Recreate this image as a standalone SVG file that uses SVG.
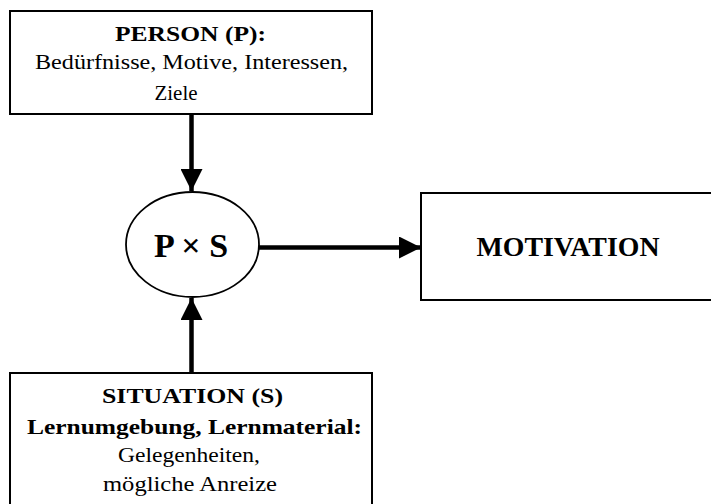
<svg xmlns="http://www.w3.org/2000/svg" width="711" height="504" viewBox="0 0 711 504">
<style>
.box{fill:#fff;stroke:#000;stroke-width:2}
text{font-family:'Liberation Serif','Times New Roman','DejaVu Serif',serif;fill:#000;text-anchor:middle;font-size:21px}
.b{font-weight:bold}
.conn{stroke:#000;stroke-width:4.5;fill:none}
</style>
<defs>
<marker id="ah" markerUnits="userSpaceOnUse" markerWidth="22" markerHeight="22" refX="22" refY="11" orient="auto" viewBox="0 0 22 22">
<path d="M0,0 L22,11 L0,22 Z" fill="#000"/>
</marker>
</defs>
<rect width="711" height="504" fill="#fff"/>
<g id="connectors">
<line class="conn" x1="191.5" y1="115" x2="191.5" y2="191" marker-end="url(#ah)"/>
<line class="conn" x1="191.5" y1="373" x2="191.5" y2="298" marker-end="url(#ah)"/>
<line class="conn" x1="259" y1="247.5" x2="421" y2="247.5" marker-end="url(#ah)"/>
</g>
<g id="person">
<rect class="box" x="10" y="11" width="362" height="103"/>
<text class="b" x="190.5" y="40.5" textLength="151" lengthAdjust="spacingAndGlyphs">PERSON (P):</text>
<text x="191.5" y="69" textLength="313" lengthAdjust="spacingAndGlyphs">Bedürfnisse,  Motive, Interessen,</text>
<text x="176" y="100" textLength="43" lengthAdjust="spacingAndGlyphs">Ziele</text>
</g>
<g id="pxs">
<ellipse cx="192.5" cy="244.5" rx="66.5" ry="52.5" fill="#fff" stroke="#000" stroke-width="1.8"/>
<text class="b" x="191" y="257" style="font-size:34px">P × S</text>
</g>
<g id="motivation">
<rect class="box" x="421" y="193" width="300" height="107"/>
<text class="b" x="568" y="256" style="font-size:26.5px" textLength="183" lengthAdjust="spacingAndGlyphs">MOTIVATION</text>
</g>
<g id="situation">
<rect class="box" x="10" y="373" width="362" height="140"/>
<text class="b" x="192.5" y="403" textLength="181" lengthAdjust="spacingAndGlyphs">SITUATION  (S)</text>
<text class="b" x="194.5" y="434" textLength="335" lengthAdjust="spacingAndGlyphs">Lernumgebung, Lernmaterial:</text>
<text x="189" y="462" textLength="142" lengthAdjust="spacingAndGlyphs">Gelegenheiten,</text>
<text x="190" y="491" textLength="174" lengthAdjust="spacingAndGlyphs">mögliche  Anreize</text>
</g>
</svg>
